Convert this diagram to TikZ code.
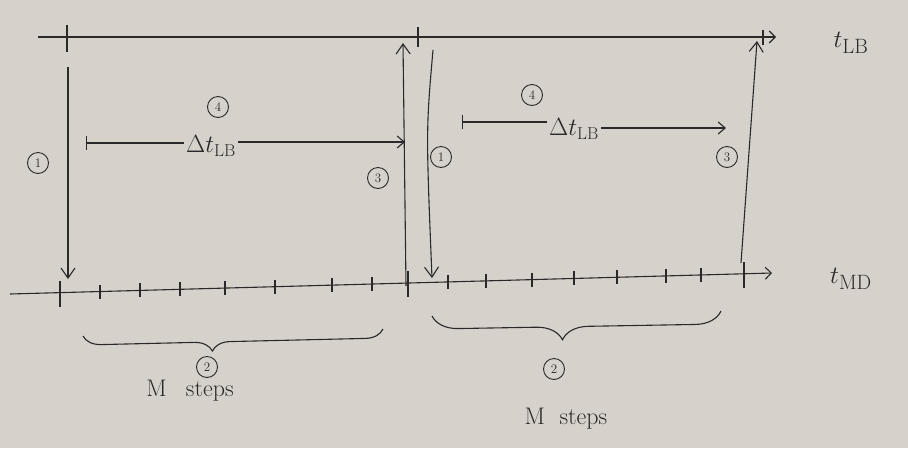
\documentclass[tikz,border=0pt]{standalone}
\usetikzlibrary{arrows.meta,decorations.pathreplacing}
\definecolor{paper}{RGB}{214,210,203}
\definecolor{ink}{RGB}{42,40,40}
\begin{document}
\begin{tikzpicture}[x=1pt,y=-1pt,line width=1.1pt,draw=ink,text=ink,
  axisline/.style={draw=ink,line width=1.1pt,-{Straight Barb[length=6pt,width=12pt]}},
  tickline/.style={draw=ink,line width=1.2pt},
  sync/.style={draw=ink,line width=1.1pt,-{Straight Barb[length=10pt,width=14pt]}},
  span/.style={draw=ink,line width=1.1pt},
  num/.style={circle,draw=ink,line width=0.9pt,inner sep=0.5pt,minimum size=21pt,font=\fontsize{13}{13}\selectfont},
  axlabel/.style={font=\fontsize{30}{32}\selectfont},
  dtlabel/.style={font=\fontsize{27}{29}\selectfont,inner sep=2pt},
  steplabel/.style={font=\fontsize{24}{26}\selectfont},
  bracket/.style={draw=ink,line width=1.1pt,decorate,decoration={brace,mirror,amplitude=#1}}]
\fill[paper] (0,0) rectangle (908,448);
\useasboundingbox (0,0) rectangle (908,448);
% top axis t_LB
\coordinate (lbS) at (38,37);
\coordinate (lbE) at (776,37);
\draw[axisline] (lbS) -- (lbE);
\node[axlabel] (tLB) at (851,43) {$t_{\mathrm{LB}}$};
\draw[tickline] (67,25) -- (67,52);
\draw[tickline] (418,27) -- (418,47);
\draw[tickline] (763,30) -- (763,45);
% bottom axis t_MD
\coordinate (mdS) at (10,294);
\coordinate (mdE) at (772,273);
\draw[axisline] (mdS) -- (mdE);
\node[axlabel] (tMD) at (851,279) {$t_{\mathrm{MD}}$};
\foreach \x in {100,140,180,225,275,332,372,448,486,532,574,617,666,701}
  \draw[tickline] (\x,{294-0.0276*(\x-10)-7}) -- ++(0,14);
\foreach \x in {60,408,744}
  \draw[tickline] (\x,{294-0.0276*(\x-10)-12}) -- ++(0,26);
% vertical sync arrows
\coordinate (d1s) at (68,67);
\coordinate (d1e) at (68,279);
\draw[sync] (d1s) -- (d1e);
\coordinate (u1s) at (406,286);
\coordinate (u1e) at (403,43);
\draw[sync] (u1s) -- (u1e);
\coordinate (d2s) at (433,50);
\coordinate (d2e) at (432,278);
\draw[sync] (d2s) .. controls (426,130) .. (d2e);
\coordinate (u2s) at (741,263);
\coordinate (u2e) at (757,41);
\draw[sync] (u2s) -- (u2e);
% Delta t intervals
\coordinate (i1s) at (86,143);
\coordinate (i1e) at (405,142);
\node[dtlabel] (dt1) at (211,146) {$\Delta t_{\mathrm{LB}}$};
\draw[span,{Bar[width=14pt]}-] (i1s) -- (dt1.west |- i1s);
\draw[span,-{Straight Barb[length=7pt,width=12pt]}] (dt1.east |- i1e) -- (i1e);
\coordinate (i2s) at (462,122);
\coordinate (i2e) at (726,128);
\node[dtlabel] (dt2) at (574,129) {$\Delta t_{\mathrm{LB}}$};
\draw[span,{Bar[width=14pt]}-] (i2s) -- (dt2.west |- i2s);
\draw[span,-{Straight Barb[length=7pt,width=12pt]}] (dt2.east |- i2e) -- (i2e);
% circled labels
\node[num] (n1a) at (38,163) {1};
\node[num] (n3a) at (378,178) {3};
\node[num] (n1b) at (441,157) {1};
\node[num] (n4a) at (218,107) {4};
\node[num] (n4b) at (532,95) {4};
\node[num] (n3b) at (727,157) {3};
% braces
\coordinate (b1s) at (83,336);
\coordinate (b1e) at (383,329);
\draw[bracket=18pt,decoration={aspect=0.43}] (b1s) -- (b1e);
\coordinate (b2s) at (432,316);
\coordinate (b2e) at (721,311);
\draw[bracket=26pt,decoration={aspect=0.45}] (b2s) -- (b2e);
\node[num] (n2a) at (207,367) {2};
\node[num] (n2b) at (554,369) {2};
\node[steplabel] (ms1) at (190,391) {M\hspace{0.8em}steps};
\node[steplabel] (ms2) at (566,419) {M\hspace{0.6em}steps};
\end{tikzpicture}
\end{document}
